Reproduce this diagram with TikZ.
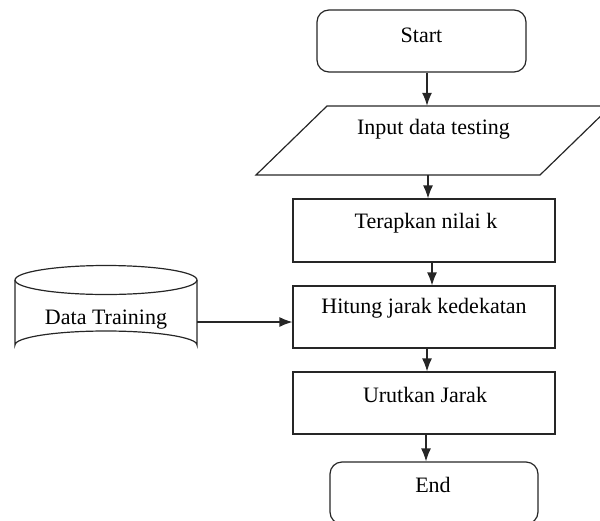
\documentclass[tikz,border=0pt]{standalone}
\usepackage{fontspec}
\setmainfont{Liberation Serif}
\usetikzlibrary{arrows.meta}
\begin{document}
\begin{tikzpicture}[x=1pt,y=-1pt,
  line/.style={draw=black!85,line width=1.2pt},
  arr/.style={line,-{Latex[length=13pt,width=10pt]}},
  boxshape/.style={line,rectangle,minimum width=262pt,minimum height=62pt,inner sep=0pt},
  term/.style={line,rectangle,rounded corners=12pt,minimum width=209pt,minimum height=62pt,inner sep=0pt},
  txt/.style={font=\fontsize{22}{26}\selectfont,inner sep=0pt}]
\useasboundingbox (0,0) rectangle (600,520);
\clip (0,0) rectangle (600,520);
% Start
\node[term] (start) at (421.5,41) {};
\node[txt] (startT) at ([yshift=6pt]start.center) {Start};
% Input parallelogram
\node[minimum width=355pt,minimum height=69pt,inner sep=0pt] (input) at (433.5,140.5) {};
\draw[line] (327,106) coordinate (inTL) -- (611,106) coordinate (inTR)
  -- (540,175) coordinate (inBR) -- (256,175) coordinate (inBL) -- cycle;
\node[txt] (inputT) at ([yshift=11.5pt]input.center) {Input data testing};
% Terapkan
\node[boxshape,minimum height=63pt] (terap) at (424,230.5) {};
\node[txt] (terapT) at ([yshift=7.5pt,xshift=2pt]terap.center) {Terapkan nilai k};
% Hitung
\node[boxshape] (hitung) at (424,317) {};
\node[txt] (hitungT) at ([yshift=9pt]hitung.center) {Hitung jarak kedekatan};
% Urutkan
\node[boxshape] (urut) at (424,403) {};
\node[txt] (urutT) at ([yshift=8pt,xshift=1pt]urut.center) {Urutkan Jarak};
% End
\node[term,minimum width=208pt] (end) at (434,493) {};
\node[txt] (endT) at ([yshift=8pt,xshift=-1pt]end.center) {End};
% Data Training cylinder
\node[minimum width=182pt,minimum height=93pt,inner sep=0pt] (dt) at (106,312.5) {};
\draw[line] (106,280) ellipse [x radius=91,y radius=14.5];
\draw[line] (15,280) -- (15,345) arc[start angle=180,end angle=360,x radius=91,y radius=14] -- (197,280);
\node[txt] (dtT) at (106,320) {Data Training};
% connectors
\draw[arr] ([xshift=5.5pt]start.south) -- ([xshift=-6.5pt]input.north);
\draw[arr] ([xshift=-5.5pt]input.south) -- ([xshift=4pt]terap.north);
\draw[arr] ([xshift=8pt]terap.south) -- ([xshift=8pt]hitung.north);
\draw[arr] ([xshift=3pt]hitung.south) -- ([xshift=3pt]urut.north);
\draw[arr] ([xshift=2pt]urut.south) -- ([xshift=-8pt]end.north);
\draw[arr] ([yshift=-9.5pt]dt.east) -- ([yshift=-5pt]hitung.west);
\end{tikzpicture}
\end{document}
